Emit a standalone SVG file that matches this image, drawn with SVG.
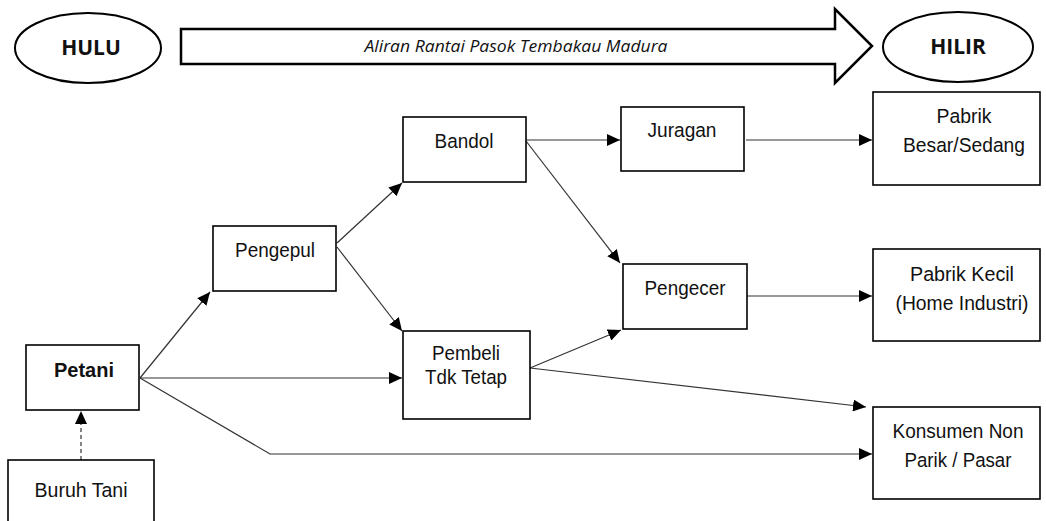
<svg xmlns="http://www.w3.org/2000/svg" width="1046" height="521" viewBox="0 0 1046 521">
<style>
.box{fill:#fff;stroke:#000;stroke-width:1.6}
.ell{fill:#fff;stroke:#000;stroke-width:2}
.t{font-family:"Liberation Sans",Arial,sans-serif;font-size:20.5px;fill:#111;text-anchor:middle}
.tb{font-weight:bold}
.h{font-family:"Open Sans","Liberation Sans",sans-serif;font-weight:700;font-size:21px;fill:#111;text-anchor:middle}
.c{fill:none;stroke:#333;stroke-width:1.2}
.a{marker-end:url(#ah)}
</style>
<defs>
<marker id="ah" markerUnits="userSpaceOnUse" markerWidth="14" markerHeight="12" viewBox="0 0 14 12" refX="13" refY="6" orient="auto">
<path d="M0,0 L13,6 L0,12 z" fill="#000"/>
</marker>
</defs>
<rect width="1046" height="521" fill="#fff"/>
<g id="hulu"><ellipse class="ell" cx="88" cy="48" rx="73" ry="35"/><text class="h" x="91" y="55">HULU</text></g>
<g id="flow-arrow"><polygon points="181,29 835,29 835,9 872,46 835,83 835,64 181,64" fill="#fff" stroke="#000" stroke-width="2.5" stroke-linejoin="miter"/>
<text x="516" y="52" font-family="'Open Sans','Liberation Sans',sans-serif" font-style="italic" font-size="17" fill="#111" text-anchor="middle" textLength="303" lengthAdjust="spacingAndGlyphs">Aliran Rantai Pasok Tembakau Madura</text></g>
<g id="hilir"><ellipse class="ell" cx="958" cy="47" rx="75" ry="35"/><text class="h" x="958" y="54">HILIR</text></g>

<g id="connectors">
<polyline class="c a" points="140,378 210,292"/>
<polyline class="c a" points="337,243 402,183"/>
<polyline class="c a" points="337,247 402,331"/>
<polyline class="c a" points="140,378 402,378"/>
<polyline class="c a" points="140,378 270,454 872,454"/>
<polyline class="c a" points="526,140 620,140"/>
<polyline class="c a" points="526,141 620,263"/>
<polyline class="c a" points="530,368 621,330"/>
<polyline class="c a" points="530,368 866,407"/>
<polyline class="c a" points="746,140 872,140"/>
<polyline class="c a" points="747,296 872,296"/>
<polyline class="c a" points="81,460 81,411" stroke-dasharray="4,3"/>
</g>

<g id="petani"><rect class="box" x="26" y="345" width="113" height="65"/><text class="t tb" x="84" y="377" textLength="60" lengthAdjust="spacingAndGlyphs">Petani</text></g>
<g id="buruh-tani"><rect class="box" x="8" y="460" width="146" height="80"/><text class="t" x="81" y="497" textLength="93" lengthAdjust="spacingAndGlyphs">Buruh Tani</text></g>
<g id="pengepul"><rect class="box" x="213" y="226" width="123" height="65"/><text class="t" x="275" y="257" textLength="80" lengthAdjust="spacingAndGlyphs">Pengepul</text></g>
<g id="bandol"><rect class="box" x="403" y="117" width="123" height="65"/><text class="t" x="464" y="148" textLength="59" lengthAdjust="spacingAndGlyphs">Bandol</text></g>
<g id="pembeli"><rect class="box" x="403" y="331" width="127" height="88"/><text class="t" x="466" y="360" textLength="68" lengthAdjust="spacingAndGlyphs">Pembeli</text><text class="t" x="466" y="384" textLength="82" lengthAdjust="spacingAndGlyphs">Tdk Tetap</text></g>
<g id="juragan"><rect class="box" x="621" y="107" width="123" height="64"/><text class="t" x="682" y="137" textLength="69" lengthAdjust="spacingAndGlyphs">Juragan</text></g>
<g id="pengecer"><rect class="box" x="623" y="264" width="124" height="65"/><text class="t" x="685" y="295" textLength="81" lengthAdjust="spacingAndGlyphs">Pengecer</text></g>
<g id="pabrik-besar"><rect class="box" x="873" y="92" width="167" height="93"/><text class="t" x="964" y="123" textLength="55" lengthAdjust="spacingAndGlyphs">Pabrik</text><text class="t" x="964" y="152" textLength="122" lengthAdjust="spacingAndGlyphs">Besar/Sedang</text></g>
<g id="pabrik-kecil"><rect class="box" x="873" y="249" width="167" height="92"/><text class="t" x="962" y="281" textLength="104" lengthAdjust="spacingAndGlyphs">Pabrik Kecil</text><text class="t" x="962" y="310" textLength="133" lengthAdjust="spacingAndGlyphs">(Home Industri)</text></g>
<g id="konsumen"><rect class="box" x="873" y="407" width="167" height="92"/><text class="t" x="958" y="438" textLength="131" lengthAdjust="spacingAndGlyphs">Konsumen Non</text><text class="t" x="958" y="467" textLength="107" lengthAdjust="spacingAndGlyphs">Parik / Pasar</text></g>
</svg>
